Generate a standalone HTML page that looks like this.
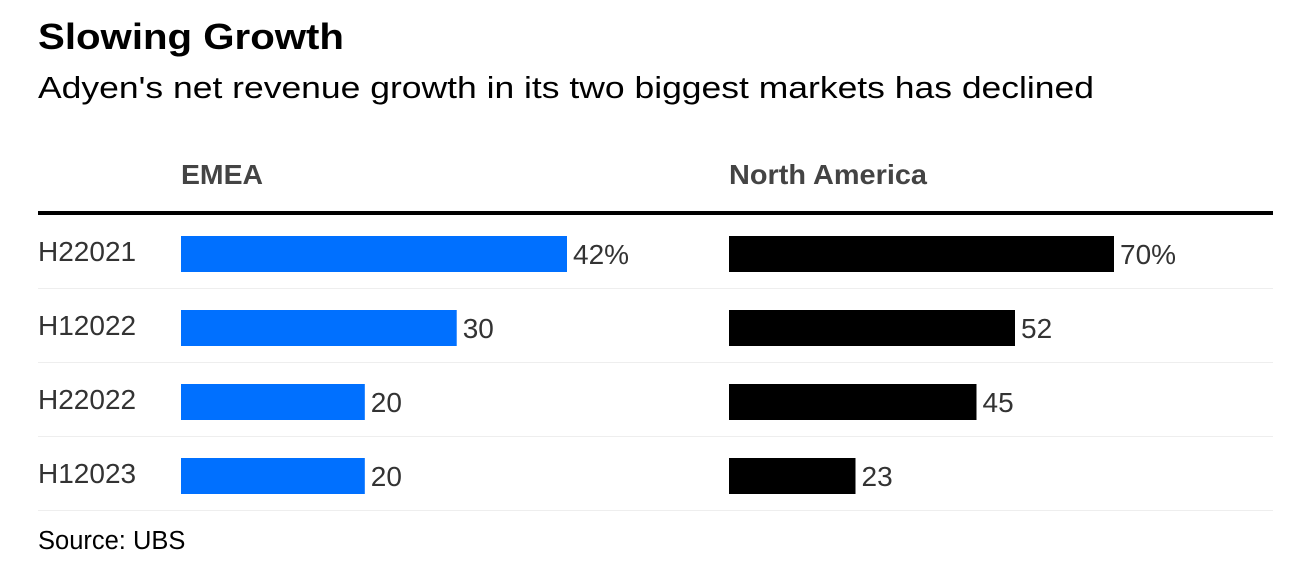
<!DOCTYPE html>
<html><head><meta charset="utf-8"><style>
body{margin:0;background:#fff;}
svg{display:block;font-family:"Liberation Sans",Arial,sans-serif;}
</style></head><body>
<svg id="chart" width="1314" height="582" viewBox="0 0 1314 582">
<text x="38" y="49" font-size="36" font-weight="bold" fill="#000" textLength="306" lengthAdjust="spacingAndGlyphs">Slowing Growth</text>
<text x="38" y="98" font-size="31" fill="#000" textLength="1056" lengthAdjust="spacingAndGlyphs">Adyen's net revenue growth in its two biggest markets has declined</text>
<text x="181" y="184" font-size="28" font-weight="bold" fill="#444" textLength="82" lengthAdjust="spacingAndGlyphs">EMEA</text>
<text x="729" y="184" font-size="28" font-weight="bold" fill="#444" textLength="198" lengthAdjust="spacingAndGlyphs">North America</text>
<rect x="38" y="211" width="1235" height="4" fill="#000"/>
<g id="rows"></g>
<text x="38" y="549" font-size="25.5" fill="#000">Source: UBS</text>
</svg>
<script>
const categories = ["H22021","H12022","H22022","H12023"];
const emeaValues = [42,30,20,20];
const naValues = [70,52,45,23];
const emeaLabels = ["42%","30","20","20"];
const naLabels = ["70%","52","45","23"];

const NS="http://www.w3.org/2000/svg";
const g=document.getElementById('rows');
const rowTop=i=>236+i*74;
const emeaX=v=>v/Math.max(...emeaValues)*386;
const naX=v=>v/Math.max(...naValues)*385;
function mk(tag,attrs){const e=document.createElementNS(NS,tag);for(const k in attrs)e.setAttribute(k,attrs[k]);g.appendChild(e);return e;}
categories.forEach((c,i)=>{
  const y=rowTop(i);
  let t=mk('text',{x:38,y:y+25,'font-size':28,fill:'#333'});t.textContent=c;
  
  
  let w=emeaX(emeaValues[i]);
  let b=mk('rect',{x:181,y:y,width:w,height:36,fill:'#0070ff'});
  
  
  t=mk('text',{x:181+w+6,y:y+28,'font-size':28,fill:'#333'});t.textContent=emeaLabels[i];
  
  
  w=naX(naValues[i]);
  b=mk('rect',{x:729,y:y,width:w,height:36,fill:'#000'});
  
  
  t=mk('text',{x:729+w+6,y:y+28,'font-size':28,fill:'#333'});t.textContent=naLabels[i];
  
  
  const l=mk('rect',{x:38,y:y+52,width:1235,height:1,fill:'#eeeeee'});
  
  
});
</script>
</body></html>
